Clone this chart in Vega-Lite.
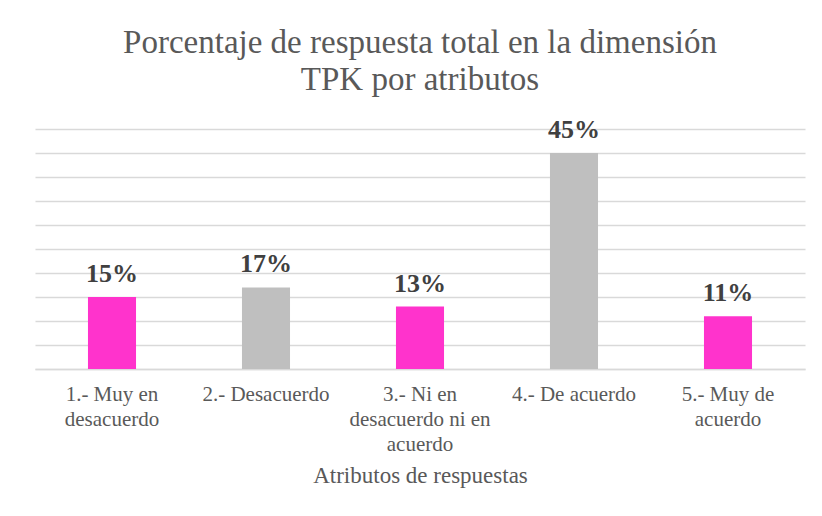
{
  "$schema": "https://vega.github.io/schema/vega-lite/v6.json",
  "width": 770,
  "height": 240,
  "autosize": {"type": "none"},
  "padding": {"left": 35, "top": 129, "right": 17, "bottom": 147},
  "background": "white",
  "title": {
    "text": ["Porcentaje de respuesta total en la dimensión", "TPK por atributos"],
    "font": "Liberation Serif",
    "fontSize": 33,
    "fontWeight": "normal",
    "color": "#595959",
    "lineHeight": 37,
    "anchor": "middle",
    "offset": 20
  },
  "data": {
    "values": [
      {"atributo": "1.- Muy en desacuerdo", "pct": 0.15},
      {"atributo": "2.- Desacuerdo", "pct": 0.17},
      {"atributo": "3.- Ni en desacuerdo ni en acuerdo", "pct": 0.13},
      {"atributo": "4.- De acuerdo", "pct": 0.45},
      {"atributo": "5.- Muy de acuerdo", "pct": 0.11}
    ]
  },
  "encoding": {
    "x": {
      "field": "atributo",
      "type": "nominal",
      "sort": null,
      "scale": {"paddingInner": 0.688, "paddingOuter": 0.344},
      "axis": {
        "title": "Atributos de respuestas",
        "titleFont": "Liberation Serif",
        "titleFontSize": 23,
        "titleFontWeight": "normal",
        "titleColor": "#595959",
        "titlePadding": 10,
        "labelFont": "Liberation Serif",
        "labelFontSize": 21,
        "labelColor": "#595959",
        "labelAngle": 0,
        "labelLineHeight": 25,
        "labelPadding": 14,
        "labelBaseline": "top",
        "labelExpr": "datum.value == '1.- Muy en desacuerdo' ? ['1.- Muy en', 'desacuerdo'] : datum.value == '3.- Ni en desacuerdo ni en acuerdo' ? ['3.- Ni en', 'desacuerdo ni en', 'acuerdo'] : datum.value == '5.- Muy de acuerdo' ? ['5.- Muy de', 'acuerdo'] : datum.value",
        "ticks": false,
        "domain": true,
        "domainColor": "#D9D9D9",
        "domainWidth": 1.5,
        "grid": false
      }
    },
    "y": {
      "field": "pct",
      "type": "quantitative",
      "scale": {"domain": [0, 0.5], "nice": false},
      "axis": {
        "title": null,
        "labels": false,
        "ticks": false,
        "domain": false,
        "values": [0, 0.05, 0.1, 0.15, 0.2, 0.25, 0.3, 0.35, 0.4, 0.45, 0.5],
        "grid": true,
        "gridColor": "#D9D9D9",
        "gridWidth": 1.5
      }
    }
  },
  "layer": [
    {
      "mark": {"type": "bar"},
      "encoding": {
        "color": {
          "field": "atributo",
          "type": "nominal",
          "sort": null,
          "scale": {
            "domain": ["1.- Muy en desacuerdo", "2.- Desacuerdo", "3.- Ni en desacuerdo ni en acuerdo", "4.- De acuerdo", "5.- Muy de acuerdo"],
            "range": ["#FF33CC", "#BFBFBF", "#FF33CC", "#BFBFBF", "#FF33CC"]
          },
          "legend": null
        }
      }
    },
    {
      "mark": {
        "type": "text",
        "font": "Liberation Serif",
        "fontSize": 26,
        "fontWeight": "bold",
        "color": "#404040",
        "baseline": "alphabetic",
        "dy": -15
      },
      "encoding": {
        "text": {"field": "pct", "type": "quantitative", "format": ".0%"}
      }
    }
  ],
  "config": {
    "view": {"stroke": null},
    "font": "Liberation Serif"
  }
}
